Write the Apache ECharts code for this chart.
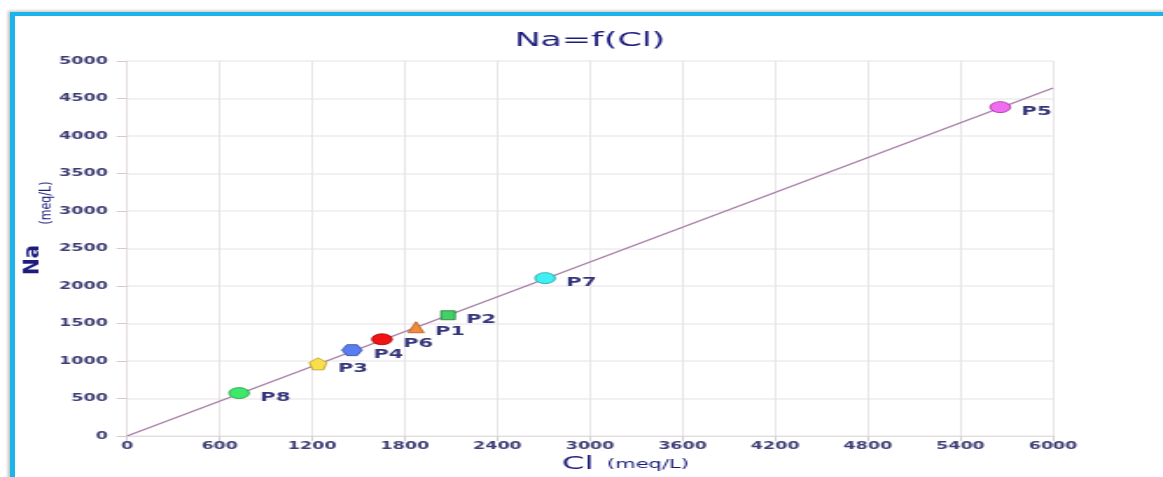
<!DOCTYPE html>
<html>
<head>
<meta charset="utf-8">
<script src="https://cdn.jsdelivr.net/npm/echarts@6/dist/echarts.min.js"></script>
<style>
  html, body { margin: 0; padding: 0; background: #fff; overflow: hidden; }
  #frame {
    position: absolute; left: 10px; top: 12px; width: 1153px; height: 465px;
    border-top: 4px solid #1cb4ea; border-left: 5px solid #1cb4ea;
    box-shadow: -2px -1px 3px rgba(0,0,0,0.25);
  }
  /* the chart is drawn narrow and widened horizontally, which gives the wide lettering and oval markers */
  #chart {
    position: absolute; left: 0; top: 0; width: 665px; height: 477px;
    transform: scaleX(1.74887); transform-origin: 0 0;
  }
</style>
</head>
<body>
<div id="frame"></div>
<div id="chart"></div>
<script>
// Sample points: chloride vs sodium, meq/L
const pointNames = ['P8', 'P3', 'P4', 'P6', 'P1', 'P2', 'P7', 'P5'];
const clValues   = [726, 1238, 1458, 1652, 1873, 2080, 2709, 5658];
const naValues   = [572, 962, 1145, 1290, 1450, 1610, 2105, 4385];

// Regression line end points
const fitCl = [0, 6000];
const fitNa = [0, 4640];

const xTicks = { min: 0, max: 6000, interval: 600 };
const yTicks = { min: 0, max: 5000, interval: 500 };

const S = 1163 / 665;   // horizontal widening applied to the chart element

// marker look per point
const pentagon = 'path://M0,-10 L9.5,-3.1 L5.9,8.1 L-5.9,8.1 L-9.5,-3.1 Z';
const hexagon = 'path://M-10,0 L-5,-8.7 L5,-8.7 L10,0 L5,8.7 L-5,8.7 Z';
const markerStyles = [
  { symbol: 'circle',   size: [11.5, 11], fill: '#3de86a', stroke: '#1f9a3f' },
  { symbol: pentagon,   size: [10, 12],   fill: '#f8e04c', stroke: '#b89a20' },
  { symbol: hexagon,    size: [11.5, 11], fill: '#5a7ef0', stroke: '#2f4db0' },
  { symbol: 'circle',   size: [11.5, 11], fill: '#f01414', stroke: '#a00000' },
  { symbol: 'triangle', size: [9, 11],    fill: '#f28c3c', stroke: '#b05a1a' },
  { symbol: 'rect',     size: [8, 9],     fill: '#44d068', stroke: '#1f7a38' },
  { symbol: 'circle',   size: [11.5, 11], fill: '#3ef0f0', stroke: '#1a9aa0' },
  { symbol: 'circle',   size: [11.5, 11], fill: '#f06cf0', stroke: '#a030a0' }
];

const navy = '#1c1c7c';
const tickColor = '#3e3e74';
const font = 'DejaVu Sans';

const series = [{
  type: 'line',
  data: fitCl.map((c, i) => [c, fitNa[i]]),
  symbol: 'none',
  lineStyle: { color: '#a47aa4', width: 1.2 },
  z: 1,
  silent: true
}];

pointNames.forEach((name, i) => {
  const m = markerStyles[i];
  series.push({
    type: 'scatter',
    name: name,
    data: [[clValues[i], naValues[i]]],
    symbol: m.symbol,
    symbolSize: m.size,
    itemStyle: { color: m.fill, borderColor: m.stroke, borderWidth: 0.8, opacity: 1 },
    label: {
      show: true,
      formatter: name,
      position: 'right',
      distance: 6,
      offset: [0, 5],
      color: '#34347a',
      fontFamily: font,
      fontWeight: 'bold',
      fontSize: 12
    },
    z: 3
  });
});

const chart = echarts.init(document.getElementById('chart'));
chart.setOption({
  animation: false,
  backgroundColor: 'transparent',
  title: {
    text: 'Na=f(Cl)',
    left: 581 / S, top: 26, textAlign: 'center',
    textStyle: { color: navy, fontFamily: font, fontWeight: 'normal', fontSize: 20 }
  },
  grid: {
    left: 127 / S, top: 61, width: 926 / S, height: 375,
    containLabel: false, outerBoundsMode: 'none'
  },
  xAxis: {
    type: 'value',
    min: xTicks.min, max: xTicks.max, interval: xTicks.interval,
    axisLine: { show: true, lineStyle: { color: '#e4dde0', width: 1 } },
    axisTick: { show: true, length: 5, lineStyle: { color: '#d8cdd2' } },
    axisLabel: {
      color: tickColor, fontFamily: font, fontWeight: 'bold', fontSize: 10, margin: 5,
      formatter: v => String(v)
    },
    splitLine: { show: true, lineStyle: { color: '#e8e4e8', width: 1 } }
  },
  yAxis: {
    type: 'value',
    min: yTicks.min, max: yTicks.max, interval: yTicks.interval,
    axisLine: { show: true, lineStyle: { color: '#e4dde0', width: 1 } },
    axisTick: { show: true, length: 6, lineStyle: { color: '#d8c8ce' } },
    axisLabel: {
      color: tickColor, fontFamily: font, fontWeight: 'bold', fontSize: 10, margin: 11,
      formatter: v => String(v)
    },
    splitLine: { show: true, lineStyle: { color: '#eeebee', width: 1.5 } }
  },
  graphic: [
    // x axis title
    { type: 'text', x: 562 / S, y: 464,
      style: { text: 'Cl', fill: navy, font: '18.5px "DejaVu Sans"', align: 'left', verticalAlign: 'middle' } },
    { type: 'text', x: 607 / S, y: 465,
      style: { text: '(meq/L)', fill: navy, font: '12px "DejaVu Sans"', align: 'left', verticalAlign: 'middle' } },
    // y axis title, reading upward; glyph height kept narrow against the widening
    { type: 'text', x: 33 / S, y: 260, rotation: Math.PI / 2, scaleY: 1 / S,
      style: { text: 'Na', fill: navy, font: 'bold 20px "DejaVu Sans"', align: 'center', verticalAlign: 'middle' } },
    { type: 'text', x: 46 / S, y: 203, rotation: Math.PI / 2, scaleY: 0.8,
      style: { text: '(meq/L)', fill: navy, font: '11px "DejaVu Sans"', align: 'center', verticalAlign: 'middle' } }
  ],
  series: series
});
</script>
</body>
</html>
